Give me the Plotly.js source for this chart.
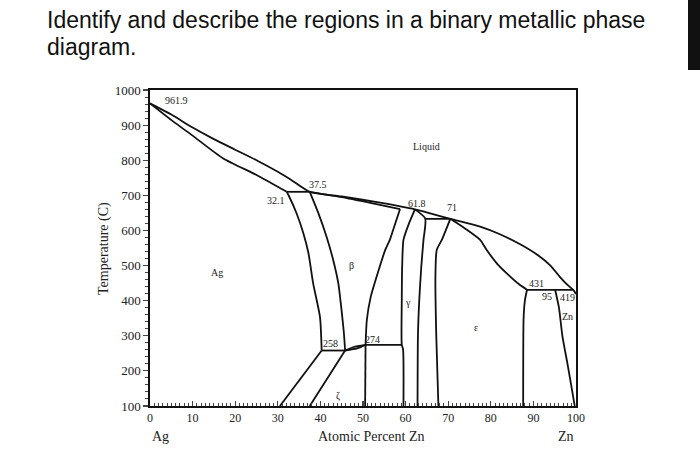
<!DOCTYPE html>
<html>
<head>
<meta charset="utf-8">
<script src="https://cdn.plot.ly/plotly-3.0.1.min.js"></script>
<style>html,body{margin:0;padding:0;background:#fff;}#chart{width:700px;height:458px;}</style>
</head>
<body>
<div id="chart"></div>
<script>
// ---- Phase boundary data (x = atomic % Zn, T = temperature in C) ----
var liquidusX = [0, 5, 10, 15, 20, 25, 30, 33, 37.5, 45, 54, 62.2, 66, 70.5, 77.5, 82, 87, 91, 94, 96.2, 98, 99.4, 100];
var liquidusT = [961.9, 930, 893, 860, 830, 800, 767, 745, 710, 697, 679, 660, 648, 633, 611, 590, 560, 530, 500, 468, 445, 430, 419];

var alphaSolidusX = [0, 5.5, 10, 17.2, 25, 32.1];
var alphaSolidusT = [961.9, 910, 870, 805, 758, 710];

var peritectic710X = [32.1, 37.5];
var peritectic710T = [710, 710];

var alphaSolvusX = [32.1, 32.5, 34.4, 36, 37.2, 38.3, 39.9, 40.3];
var alphaSolvusT = [710, 701, 649, 592, 535, 449, 354, 258];

var betaLeftX = [37.5, 39.5, 41.5, 43, 44.2, 44.9, 45.5, 45.8];
var betaLeftT = [710, 650, 580, 516, 450, 380, 310, 258];

var eutectoid258X = [40.3, 45.8];
var eutectoid258T = [258, 258];

var alphaLowX = [40.3, 30.5];
var alphaLowT = [258, 100];

var zetaLeftX = [45.8, 37.5];
var zetaLeftT = [258, 100];

var lensUpperX = [45.8, 47.8, 50.6];
var lensUpperT = [258, 268, 274];
var lensLowerX = [45.8, 48.6, 50.6];
var lensLowerT = [258, 264, 274];

var betaRightX = [58.7, 57.3, 56.3, 55.2, 53.5, 51.8, 50.9, 50.6];
var betaRightT = [661, 610, 573, 544, 480, 410, 345, 274];

var betaSolidusX = [37.5, 45, 52, 58.7];
var betaSolidusT = [710, 695, 678, 661];

var peritectic274X = [50.6, 59.1];
var peritectic274T = [274, 274];

var zetaRightX = [50.6, 50.5];
var zetaRightT = [274, 100];

var gammaLeftX = [62.2, 60.8, 59.5, 59.2, 59.1, 59.1, 59.4, 59.5];
var gammaLeftT = [660, 620, 573, 500, 400, 274, 262, 100];

var gammaRightX = [62.2, 64.6, 64.2, 63.7, 63.2, 62.9, 62.8];
var gammaRightT = [660, 634, 573, 500, 400, 300, 100];

var peritectic632X = [64.6, 70.5];
var peritectic632T = [633, 633];

var epsLeftX = [70.5, 68.5, 67.3, 67, 67.2, 67.7];
var epsLeftT = [633, 573, 544, 468, 300, 100];

var epsSolidusX = [70.5, 74, 77.5, 79, 81.5, 84, 86.5, 88.5];
var epsSolidusT = [633, 605, 573, 545, 505, 475, 448, 431];

var peritectic431X = [88.5, 99.2];
var peritectic431T = [431, 431];

var epsRightX = [88.5, 88, 87.7, 87.6];
var epsRightT = [431, 400, 350, 100];

var etaSolvusX = [95.1, 96, 96.8, 98, 99, 99.7];
var etaSolvusT = [431, 380, 300, 220, 150, 100];

var boundaries = [
  [liquidusX, liquidusT], [alphaSolidusX, alphaSolidusT], [peritectic710X, peritectic710T],
  [alphaSolvusX, alphaSolvusT], [betaLeftX, betaLeftT], [eutectoid258X, eutectoid258T],
  [alphaLowX, alphaLowT], [zetaLeftX, zetaLeftT], [lensUpperX, lensUpperT], [lensLowerX, lensLowerT],
  [betaRightX, betaRightT], [betaSolidusX, betaSolidusT], [peritectic274X, peritectic274T],
  [zetaRightX, zetaRightT], [gammaLeftX, gammaLeftT], [gammaRightX, gammaRightT],
  [peritectic632X, peritectic632T], [epsLeftX, epsLeftT], [epsSolidusX, epsSolidusT],
  [peritectic431X, peritectic431T], [epsRightX, epsRightT], [etaSolvusX, etaSolvusT]
];

// ---- Region and point labels ----
var regionLabels = ["Liquid", "Ag", "β", "γ", "ε", "ζ", "Zn"];
var regionLabelX = [65, 15.7, 47.4, 60.6, 76.5, 44.1, 97.9];
var regionLabelT = [838, 479, 499, 396, 325, 128, 356];

var pointLabels = ["961.9", "32.1", "37.5", "61.8", "71", "258", "274", "431", "95", "419"];
var pointLabelX = [6.2, 29.6, 39.4, 62.7, 70.9, 42.4, 52.3, 90.8, 93.2, 97.9];
var pointLabelT = [970, 684, 732, 677, 664, 277, 290, 450, 413, 409];

var xTickVals = [0, 10, 20, 30, 40, 50, 60, 70, 80, 90, 100];
var yTickVals = [100, 200, 300, 400, 500, 600, 700, 800, 900, 1000];

var titleLines = ["Identify and describe the regions in a binary metallic phase", "diagram."];

var SERIF = "Liberation Serif, Times New Roman, serif";

var traces = boundaries.map(function (b) {
  return {x: b[0], y: b[1], type: "scatter", mode: "lines",
          line: {color: "#111", width: 1.8, shape: "spline", smoothing: 0.6},
          hoverinfo: "skip", showlegend: false, cliponaxis: false};
});

var annotations = [];
regionLabels.forEach(function (t, i) {
  annotations.push({x: regionLabelX[i], y: regionLabelT[i], text: t, showarrow: false,
    font: {family: SERIF, size: 10, color: "#222"}});
});
pointLabels.forEach(function (t, i) {
  annotations.push({x: pointLabelX[i], y: pointLabelT[i], text: t, showarrow: false,
    font: {family: SERIF, size: 10, color: "#222"}});
});
annotations.push({xref: "paper", yref: "paper", x: 0.52, y: -0.098, text: "Atomic Percent Zn",
  showarrow: false, yanchor: "middle", font: {family: SERIF, size: 14, color: "#222"}});
annotations.push({xref: "paper", yref: "paper", x: 0, y: -0.098, text: "Ag",
  showarrow: false, yanchor: "middle", font: {family: SERIF, size: 14, color: "#222"}});
annotations.push({xref: "paper", yref: "paper", x: 1, y: -0.098, text: "Zn",
  showarrow: false, yanchor: "middle", font: {family: SERIF, size: 14, color: "#222"}});
annotations.push({xref: "paper", yref: "paper", x: -0.108, y: 0.5, text: "Temperature (C)",
  textangle: -90, showarrow: false, xanchor: "center", yanchor: "middle",
  font: {family: SERIF, size: 14, color: "#222"}});
// page heading lines, placed in paper units relative to the plot area
var titleRowPx = [20, 47];
titleLines.forEach(function (t, i) {
  annotations.push({xref: "paper", yref: "paper", x: (45 - 150) / 426, y: (406 - titleRowPx[i]) / 316,
    xanchor: "left", yanchor: "middle", align: "left", showarrow: false, text: t,
    font: {family: "Liberation Sans, Arial, sans-serif", size: 23, color: "#111"}});
});

var layout = {
  width: 700, height: 458,
  paper_bgcolor: "#fff", plot_bgcolor: "#fff",
  margin: {l: 150, r: 124, t: 90, b: 52},
  xaxis: {range: [0, 100], tickvals: xTickVals, ticks: "inside", ticklen: 5, tickwidth: 1.2,
    minor: {dtick: 1, ticks: "inside", ticklen: 3, tickwidth: 1},
    showline: true, linewidth: 1.6, linecolor: "#111", mirror: true,
    showgrid: false, zeroline: false, fixedrange: true,
    tickfont: {family: SERIF, size: 12, color: "#222"}},
  yaxis: {range: [100, 1000], tickvals: yTickVals, ticks: "outside", ticklen: 5, tickwidth: 1.2,
    minor: {dtick: 20, ticks: "outside", ticklen: 3, tickwidth: 1},
    showline: true, linewidth: 1.6, linecolor: "#111", mirror: true,
    showgrid: false, zeroline: false, fixedrange: true,
    tickfont: {family: SERIF, size: 13, color: "#222"}},
  annotations: annotations,
  shapes: [{type: "rect", xref: "paper", yref: "paper",
    x0: (688 - 150) / 426, x1: (700 - 150) / 426, y0: (406 - 70) / 316, y1: (406 + 2) / 316,
    fillcolor: "#111", line: {width: 0}, layer: "above"}]
};

Plotly.newPlot("chart", traces, layout, {staticPlot: true, displayModeBar: false});
</script>
</body>
</html>
